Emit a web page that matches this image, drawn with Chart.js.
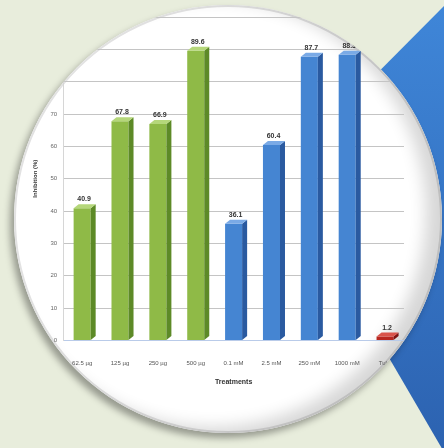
<!DOCTYPE html>
<html>
<head>
<meta charset="utf-8">
<script src="https://cdn.jsdelivr.net/npm/chart.js@4"></script>
<style>
  html, body { margin: 0; padding: 0; }
  body { width: 444px; height: 448px; background: #e8eddc; position: relative; overflow: hidden; }
  #arrow { position: absolute; left: 0; top: 0; z-index: 0; }
  #lens {
    position: absolute; left: 14px; top: 5px; width: 428px; height: 428px; z-index: 1;
    border-radius: 50%; background: #fff; overflow: hidden;
    box-shadow: -4px 5px 7px rgba(0,0,0,0.35), inset -16px -6px 16px rgba(0,0,0,0.16), inset 0 0 0 2px #e2e2e2;
  }
  #plot { position: absolute; left: -14px; top: -5px; width: 444px; height: 448px; }
</style>
</head>
<body>
<svg id="arrow" width="444" height="448">
  <defs>
    <linearGradient id="blueFill" x1="0" y1="0" x2="0" y2="1">
      <stop offset="0" stop-color="#3f86d8"/>
      <stop offset="1" stop-color="#2c62b0"/>
    </linearGradient>
  </defs>
  <polygon points="280,171 444,6 444,452" fill="url(#blueFill)"/>
</svg>
<div id="lens">
  <div id="plot"><canvas id="myChart"></canvas></div>
</div>
<script>
// treatments and measured values
var labels = ["62.5 µg", "125 µg", "250 µg", "500 µg", "0.1 mM", "2.5 mM", "250 mM", "1000 mM", "Tulsi"];
var values = [40.9, 67.8, 66.9, 89.6, 36.1, 60.4, 87.7, 88.3, 1.2];
var groups = ["g", "g", "g", "g", "b", "b", "b", "b", "r"];
var yMax = 100;
var yStep = 10;

var palette = {
  g: { face: "#8fba47", side: "#5d8a27", top: "#b5d77a" },
  b: { face: "#4585d2", side: "#2a5aa0", top: "#7aaae6" },
  r: { face: "#b8261f", side: "#7d1210", top: "#d9534a" }
};
var faceColors = groups.map(function(g) { return palette[g].face; });

var dx = 5, dy = 4;

// fake 3d: side + top faces, then the value over each bar
var bar3d = {
  id: "bar3d",
  afterDatasetsDraw: function(chart) {
    var ctx = chart.ctx;
    ctx.save();
    chart.getDatasetMeta(0).data.forEach(function(bar, i) {
      var c = palette[groups[i]];
      var l = bar.x - bar.width / 2, r = bar.x + bar.width / 2;
      ctx.fillStyle = c.side;
      ctx.beginPath();
      ctx.moveTo(r, bar.y);
      ctx.lineTo(r + dx, bar.y - dy);
      ctx.lineTo(r + dx, bar.base - dy);
      ctx.lineTo(r, bar.base);
      ctx.closePath();
      ctx.fill();
      ctx.fillStyle = c.top;
      ctx.beginPath();
      ctx.moveTo(l, bar.y);
      ctx.lineTo(l + dx, bar.y - dy);
      ctx.lineTo(r + dx, bar.y - dy);
      ctx.lineTo(r, bar.y);
      ctx.closePath();
      ctx.fill();
      ctx.fillStyle = "#333";
      ctx.font = "bold 7px 'Liberation Sans'";
      ctx.textAlign = "center";
      ctx.fillText(values[i].toFixed(1), bar.x + 2, bar.y - dy - 3);
    });
    ctx.restore();
  }
};

var ctx = document.getElementById("myChart").getContext("2d");
var chart = new Chart(ctx, {
  type: "bar",
  data: {
    labels: labels,
    datasets: [
      {
        data: values,
        backgroundColor: faceColors,
        barPercentage: 0.45,
        categoryPercentage: 1
      }
    ]
  },
  options: {
    responsive: true,
    maintainAspectRatio: false,
    animation: false,
    layout: { padding: { left: 30, right: 40, top: 17, bottom: 60 } },
    plugins: { legend: { display: false }, tooltip: { enabled: false } },
    scales: {
      x: {
        grid: { display: false },
        border: { color: "#b9cbe9" },
        ticks: { color: "#555", font: { size: 6, family: "Liberation Sans" }, padding: 11, maxRotation: 0, autoSkip: false },
        title: { display: true, text: "Treatments", color: "#333", font: { size: 7, weight: "bold", family: "Liberation Sans" }, padding: { top: 0, bottom: 2 } }
      },
      y: {
        min: 0,
        max: yMax,
        ticks: { stepSize: yStep, color: "#666", font: { size: 6, family: "Liberation Sans" }, padding: 6 },
        grid: { color: "#c4c4c4", drawTicks: false },
        border: { color: "#d6d6d6" },
        title: { display: true, text: "Inhibition (%)", color: "#333", font: { size: 6, weight: "bold", family: "Liberation Sans" }, padding: 2 }
      }
    }
  },
  plugins: [bar3d]
});
</script>
</body>
</html>
